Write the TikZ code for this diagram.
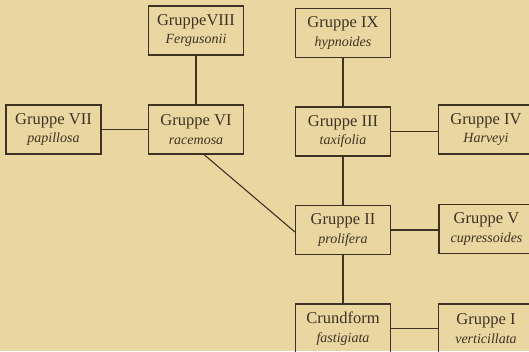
\documentclass[tikz,border=0pt]{standalone}
\usepackage{fontspec}
\setmainfont{Liberation Serif}
\definecolor{paper}{RGB}{233,214,161}
\definecolor{ink}{RGB}{62,50,34}
\begin{document}
\begin{tikzpicture}[x=1pt,y=-1pt,
  group/.style={draw=ink, line width=1.1pt, text=ink, minimum width=95pt,
    minimum height=49pt, inner sep=0pt, align=center,
    font=\fontsize{16.5}{18.5}\selectfont},
  link/.style={draw=ink, line width=1.1pt}]
  % sheet
  \path[use as bounding box, fill=paper] (0,0) rectangle (529,351);
  \clip (0,0) rectangle (529,351);
  % left branch
  \node[group] (g8) at (196,30.5) {GruppeVIII\\{\fontsize{14}{14}\selectfont\itshape Fergusonii}};
  \node[group] (g7) at (53.5,129.5) {Gruppe VII\\{\fontsize{14}{14}\selectfont\itshape papillosa}};
  \node[group] (g6) at (196,129.5) {Gruppe VI\\{\fontsize{14}{14}\selectfont\itshape racemosa}};
  % main column
  \node[group] (g9) at (343,33) {Gruppe IX\\{\fontsize{14}{14}\selectfont\itshape hypnoides}};
  \node[group] (g3) at (343,131.5) {Gruppe III\\{\fontsize{14}{14}\selectfont\itshape taxifolia}};
  \node[group] (g2) at (343,230) {Gruppe II\\{\fontsize{14}{14}\selectfont\itshape prolifera}};
  \node[group] (g0) at (343,328.5) {Crundform\\{\fontsize{14}{14}\selectfont\itshape fastigiata}};
  % right column
  \node[group] (g4) at (486,129.5) {Gruppe IV\\{\fontsize{14}{14}\selectfont\itshape Harveyi}};
  \node[group] (g5) at (486.5,229) {Gruppe V\\{\fontsize{14}{14}\selectfont\itshape cupressoides}};
  \node[group] (g1) at (486,328.5) {Gruppe I\\{\fontsize{14}{14}\selectfont\itshape verticillata}};
  % connectors
  \draw[link] (g8) -- (g6);
  \draw[link] (g7) -- (g6);
  \draw[link] ([xshift=8pt]g6.south) -- ([yshift=-2pt]g2.west);
  \draw[link] (g9) -- (g3);
  \draw[link] (g3) -- (g2);
  \draw[link] (g2) -- (g0);
  \draw[link] (g3.east) -- (g4.west |- g3.east);
  \draw[link] (g2.east) -- (g5.west |- g2.east);
  \draw[link] (g0) -- (g1);
\end{tikzpicture}
\end{document}
